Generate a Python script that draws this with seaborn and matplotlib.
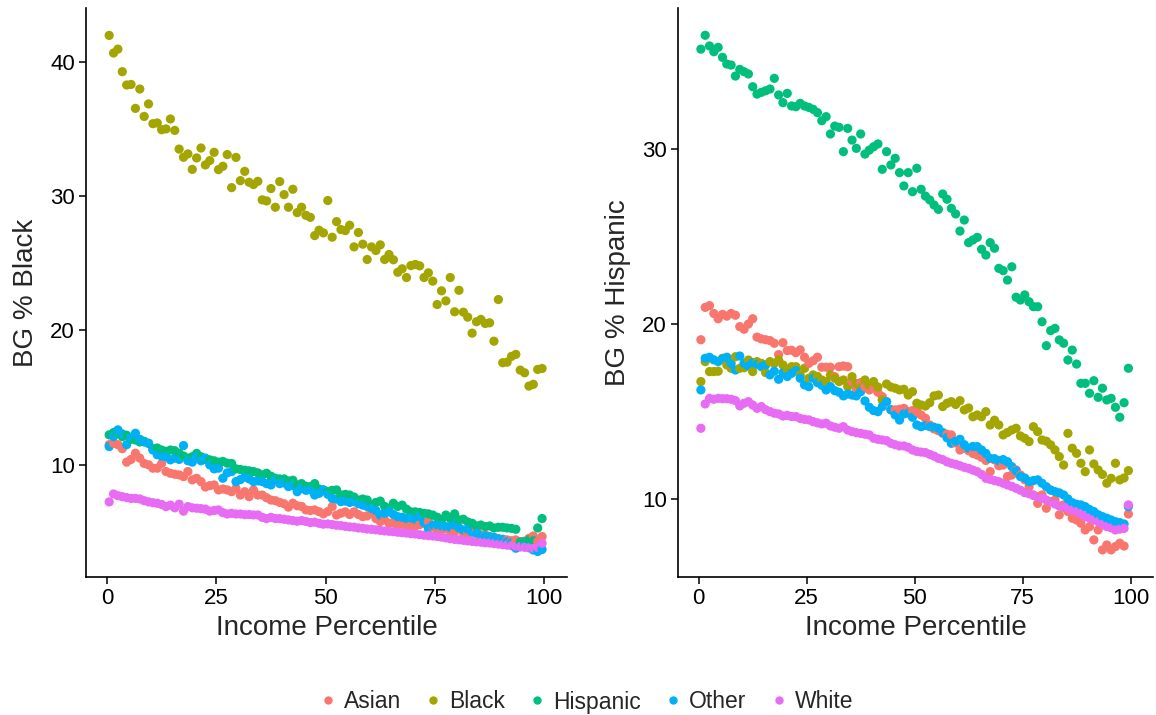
import numpy as np
import pandas as pd
import matplotlib
matplotlib.use("Agg")
import matplotlib.pyplot as plt
from matplotlib.lines import Line2D
import seaborn as sns

# Block-group demographic share by income percentile (percentile bin midpoints)
percentile = np.arange(0.5, 100, 1.0)
races = ["Asian", "Black", "Hispanic", "Other", "White"]
palette = ["#F8766D", "#A3A500", "#00BF7D", "#00B0F6", "#E76BF3"]

# ---- BG % Black ----
black_asian = [
    11.5, 11.6, 11.5, 11.2, 10.2, 10.4, 10.86, 10.5, 10.1, 10.0,
    9.75, 9.75, 10.1, 9.5, 9.37, 9.3, 9.25, 9.12, 9.5, 8.88,
    9.0, 8.75, 8.35, 8.45, 8.5, 8.13, 8.2, 8.13, 8.0, 8.25,
    7.75, 8.0, 7.63, 8.13, 7.75, 7.75, 7.55, 7.38, 7.33, 7.2,
    7.1, 6.85, 7.14, 6.95, 6.9, 6.64, 6.6, 6.64, 6.51, 6.35,
    6.52, 6.89, 6.26, 6.4, 6.5, 6.3, 6.5, 6.3, 6.14, 6.2,
    6.39, 6.0, 5.78, 5.9, 5.65, 5.7, 5.52, 5.6, 5.52, 5.5,
    5.45, 5.55, 5.65, 5.78, 5.4, 5.2, 5.15, 5.27, 5.1, 5.0,
    5.27, 4.95, 4.91, 5.0, 5.1, 4.46, 4.8, 4.66, 4.6, 4.5,
    4.45, 4.41, 4.35, 4.41, 4.28, 4.3, 4.53, 4.7, 4.28, 4.66,
]
black_black = [
    41.96, 40.65, 40.94, 39.26, 38.27, 38.31, 36.53, 37.97, 35.93, 36.86,
    35.39, 35.44, 34.94, 35.0, 35.74, 34.89, 33.5, 32.89, 33.14, 31.99,
    32.84, 33.58, 32.32, 32.64, 33.26, 31.97, 32.22, 33.09, 30.63, 32.88,
    31.15, 31.84, 31.03, 30.86, 31.1, 29.72, 29.64, 30.56, 29.17, 31.08,
    30.11, 29.17, 30.51, 28.77, 29.17, 28.57, 28.42, 27.06, 27.46, 27.26,
    29.67, 26.94, 28.1, 27.51, 27.43, 27.83, 26.22, 27.29, 26.42, 25.28,
    26.22, 25.95, 26.37, 25.28, 25.65, 25.26, 24.33, 24.59, 23.94, 24.83,
    24.91, 24.81, 23.94, 24.29, 23.67, 21.93, 22.95, 22.2, 23.94, 21.39,
    22.99, 21.36, 20.99, 19.8, 20.65, 20.82, 20.52, 20.57, 19.2, 22.3,
    17.6, 17.64, 18.07, 18.22, 17.05, 16.85, 15.86, 15.99, 17.1, 17.17,
]
black_hispanic = [
    12.23, 12.4, 12.35, 12.1, 12.2, 11.9, 11.85, 11.7, 11.75, 11.6,
    11.2, 11.25, 11.1, 11.0, 11.1, 11.05, 10.86, 10.65, 10.5, 10.6,
    10.85, 10.6, 10.4, 10.37, 10.3, 10.2, 10.25, 10.12, 10.1, 9.7,
    9.65, 9.6, 9.55, 9.5, 9.4, 9.25, 9.37, 9.15, 9.0, 8.95,
    8.95, 8.8, 8.85, 8.5, 8.6, 8.4, 8.38, 8.6, 8.2, 8.13,
    8.0, 8.1, 8.13, 7.75, 7.8, 7.75, 7.6, 7.38, 7.45, 7.38,
    7.0, 7.2, 7.3, 6.9, 6.76, 7.14, 6.9, 7.0, 6.7, 6.5,
    6.5, 6.45, 6.39, 6.35, 6.26, 6.1, 5.9, 6.26, 6.0, 6.35,
    5.9, 5.95, 5.75, 5.65, 5.45, 5.52, 5.4, 5.45, 5.3, 5.35,
    5.35, 5.3, 5.27, 5.2, 4.25, 4.3, 4.41, 4.35, 5.3, 6.0,
]
black_other = [
    11.36, 12.1, 12.6, 12.3, 11.5, 12.0, 12.35, 11.9, 11.7, 11.6,
    11.1, 10.75, 10.65, 10.6, 10.37, 10.5, 10.4, 11.43, 10.3, 10.2,
    10.6, 10.3, 10.5, 10.0, 9.7, 9.75, 9.0, 9.4, 9.5, 8.75,
    8.9, 9.1, 8.95, 8.75, 8.8, 8.75, 8.6, 8.5, 8.88, 8.6,
    8.65, 8.38, 8.45, 8.0, 8.25, 8.1, 8.13, 7.75, 7.88, 8.13,
    7.8, 7.5, 7.45, 7.26, 7.3, 7.2, 7.26, 7.1, 7.0, 6.9,
    6.76, 6.6, 6.26, 6.4, 6.5, 6.3, 6.14, 6.1, 6.0, 6.05,
    5.95, 6.14, 5.7, 5.27, 5.5, 5.52, 5.45, 5.4, 5.35, 5.52,
    5.3, 5.15, 5.2, 5.0, 4.9, 4.78, 4.7, 4.65, 4.6, 4.5,
    4.45, 4.28, 4.2, 3.79, 3.9, 3.95, 3.85, 3.66, 3.55, 3.7,
]
black_white = [
    7.24, 7.83, 7.7, 7.63, 7.56, 7.5, 7.5, 7.46, 7.33, 7.24,
    7.18, 7.14, 7.05, 6.89, 7.0, 6.8, 7.07, 6.55, 6.89, 6.8,
    6.77, 6.74, 6.7, 6.55, 6.6, 6.64, 6.44, 6.34, 6.39, 6.34,
    6.34, 6.29, 6.3, 6.27, 6.27, 6.09, 6.0, 6.09, 6.0, 6.0,
    5.95, 5.9, 5.85, 5.8, 5.85, 5.78, 5.7, 5.73, 5.65, 5.58,
    5.6, 5.55, 5.5, 5.48, 5.42, 5.38, 5.36, 5.3, 5.28, 5.22,
    5.2, 5.16, 5.12, 5.08, 5.05, 5.02, 4.98, 4.95, 4.92, 4.88,
    4.85, 4.8, 4.76, 4.73, 4.7, 4.67, 4.62, 4.56, 4.5, 4.45,
    4.42, 4.38, 4.34, 4.3, 4.27, 4.24, 4.2, 4.18, 4.14, 4.1,
    4.06, 4.02, 3.98, 3.94, 3.9, 3.86, 3.82, 3.78, 3.85, 4.16,
]

# ---- BG % Hispanic ----
hisp_asian = [
    19.1, 20.95, 21.05, 20.6, 20.3, 20.55, 20.45, 20.6, 20.5, 19.85,
    19.7, 20.0, 20.3, 19.25, 19.15, 19.1, 19.05, 18.9, 18.25, 18.93,
    18.48, 18.5, 18.36, 18.52, 18.1, 17.75, 17.9, 18.1, 17.53, 17.53,
    17.53, 16.99, 17.56, 17.6, 17.56, 16.71, 16.33, 16.65, 16.4, 16.23,
    16.33, 16.1, 15.85, 15.56, 15.09, 15.09, 15.13, 15.18, 14.99, 15.05,
    14.99, 14.8, 14.61, 14.23, 14.0, 13.9, 13.75, 13.7, 13.66, 13.2,
    12.8, 12.9, 12.76, 12.6, 12.51, 12.38, 12.2, 11.56, 12.23, 11.9,
    11.94, 11.28, 11.37, 11.66, 11.37, 11.1, 10.7, 10.23, 9.75, 10.23,
    9.47, 10.51, 9.94, 9.09, 9.66, 9.28, 8.9, 8.8, 8.61, 8.23,
    8.42, 7.66, 8.23, 7.09, 7.37, 7.09, 7.28, 7.47, 7.31, 9.14,
]
hisp_black = [
    16.71, 17.85, 17.28, 17.28, 17.3, 18.04, 17.66, 17.47, 18.13, 17.47,
    17.5, 17.94, 17.28, 17.85, 17.75, 17.22, 17.85, 17.75, 17.94, 17.66,
    17.4, 17.56, 17.56, 17.09, 17.47, 16.9, 17.09, 17.0, 16.8, 16.71,
    17.09, 16.9, 16.71, 16.8, 16.42, 16.99, 16.6, 16.33, 16.8, 16.5,
    16.71, 16.4, 15.66, 16.57, 16.4, 16.33, 16.23, 16.27, 15.94, 16.13,
    15.47, 15.37, 15.31, 15.5, 15.89, 15.94, 15.28, 15.47, 15.56, 15.4,
    15.62, 15.09, 15.2, 14.7, 14.8, 14.7, 14.99, 14.23, 14.5, 14.23,
    13.66, 13.8, 13.94, 14.04, 13.6, 13.47, 13.28, 14.13, 13.85, 13.37,
    13.3, 13.09, 12.8, 12.42, 11.94, 13.75, 12.9, 12.61, 12.04, 11.56,
    12.8, 12.0, 11.66, 11.4, 10.9, 11.18, 12.04, 11.09, 11.2, 11.62,
]
hisp_hispanic = [
    35.71, 36.5, 35.89, 35.56, 35.81, 35.24, 34.86, 34.8, 34.17, 34.55,
    34.42, 34.29, 33.56, 33.14, 33.24, 33.33, 33.43, 34.04, 33.09, 32.65,
    33.18, 32.46, 32.42, 32.61, 32.46, 32.38, 32.27, 32.08, 31.62, 31.85,
    30.86, 31.31, 31.24, 29.85, 31.18, 30.51, 30.04, 30.86, 29.71, 29.94,
    30.13, 30.29, 28.84, 29.85, 29.09, 29.47, 28.65, 27.89, 28.65, 27.56,
    28.9, 27.7, 27.31, 27.09, 26.8, 26.55, 27.43, 27.13, 26.61, 26.29,
    25.31, 25.94, 24.65, 24.8, 24.95, 24.27, 23.94, 24.65, 24.33, 23.18,
    23.05, 22.51, 23.27, 21.53, 21.37, 21.66, 21.27, 20.99, 20.99, 20.13,
    18.76, 19.62, 19.75, 19.09, 18.9, 17.94, 18.51, 17.71, 16.61, 16.61,
    16.04, 16.76, 15.81, 16.33, 15.66, 15.75, 15.24, 14.67, 15.5, 17.47,
]
hisp_other = [
    16.23, 18.04, 18.1, 17.95, 17.85, 18.0, 18.1, 17.75, 17.37, 18.17,
    17.75, 17.6, 17.79, 17.7, 17.56, 17.66, 17.09, 17.3, 16.84, 17.22,
    17.0, 17.18, 17.33, 16.9, 16.52, 16.42, 16.9, 16.65, 16.5, 16.23,
    16.42, 16.19, 16.1, 15.89, 16.0, 15.94, 15.89, 16.13, 15.6, 15.24,
    15.05, 14.99, 15.28, 15.56, 15.1, 14.8, 14.51, 14.86, 14.9, 14.67,
    14.23, 14.13, 14.2, 14.13, 14.1, 14.04, 13.8, 13.5, 13.18, 13.3,
    13.41, 13.1, 12.9, 13.0, 12.99, 12.8, 12.6, 12.32, 12.3, 12.19,
    12.25, 12.13, 11.85, 11.6, 11.28, 11.2, 10.99, 11.05, 11.09, 10.9,
    10.7, 10.51, 10.42, 10.35, 10.23, 10.0, 9.79, 9.7, 9.66, 9.56,
    9.4, 9.28, 9.1, 8.99, 8.9, 8.8, 8.7, 8.65, 8.57, 9.56,
]
hisp_white = [
    14.04, 15.43, 15.75, 15.7, 15.75, 15.73, 15.73, 15.7, 15.62, 15.32,
    15.47, 15.56, 15.37, 15.18, 15.28, 15.1, 14.99, 14.9, 14.86, 14.74,
    14.78, 14.71, 14.71, 14.6, 14.55, 14.52, 14.42, 14.35, 14.29, 14.33,
    14.17, 14.1, 14.04, 14.13, 13.94, 13.85, 13.79, 13.75, 13.7, 13.66,
    13.47, 13.41, 13.37, 13.33, 13.18, 13.1, 13.03, 13.03, 12.95, 12.8,
    12.72, 12.68, 12.65, 12.55, 12.45, 12.32, 12.25, 12.12, 12.04, 11.98,
    11.9, 11.81, 11.75, 11.65, 11.56, 11.4, 11.18, 11.12, 11.05, 10.99,
    10.9, 10.8, 10.72, 10.61, 10.5, 10.36, 10.3, 10.2, 10.13, 10.05,
    9.94, 9.85, 9.71, 9.6, 9.52, 9.47, 9.38, 9.28, 9.15, 8.99,
    8.9, 8.8, 8.7, 8.55, 8.42, 8.35, 8.23, 8.28, 8.32, 9.66,
]


def long_frame(series):
    """Stack one panel's series into a tidy frame, interleaved by percentile."""
    parts = [pd.DataFrame({"pct": percentile, "value": vals, "race": race})
             for race, vals in zip(races, series)]
    return pd.concat(parts).sort_values("pct", kind="stable").reset_index(drop=True)


df_black = long_frame([black_asian, black_black, black_hispanic, black_other, black_white])
df_hisp = long_frame([hisp_asian, hisp_black, hisp_hispanic, hisp_other, hisp_white])

sns.set_style("ticks")
plt.rcParams["font.family"] = ["Liberation Sans", "DejaVu Sans"]

W, H = 1156, 715
fig = plt.figure(figsize=(W / 100, H / 100), dpi=100)
ax1 = fig.add_axes([86 / W, 1 - 577 / H, 481 / W, 569 / H])
ax2 = fig.add_axes([678 / W, 1 - 577 / H, 475 / W, 569 / H])

panels = [
    (ax1, df_black, "BG % Black", (1.65, 44.0), [10, 20, 30, 40]),
    (ax2, df_hisp, "BG % Hispanic", (5.54, 38.06), [10, 20, 30]),
]
for ax, df, ylabel, ylim, yticks in panels:
    sns.scatterplot(data=df, x="pct", y="value", hue="race", hue_order=races,
                    palette=palette, s=44, linewidth=0, alpha=1,
                    legend=False, ax=ax)
    ax.set_xlim(-4.8, 105.2)
    ax.set_ylim(*ylim)
    ax.set_xticks([0, 25, 50, 75, 100])
    ax.set_yticks(yticks)
    ax.set_xlabel("Income Percentile", fontsize=20, labelpad=4)
    ax.set_ylabel(ylabel, fontsize=20, labelpad=8)
    for side in ("top", "right"):
        ax.spines[side].set_visible(False)
    for side in ("left", "bottom"):
        ax.spines[side].set_linewidth(1.2)
        ax.spines[side].set_color("black")
    ax.tick_params(axis="both", length=5, width=1.1, color="black",
                   labelsize=16, labelcolor="black", pad=3)

handles = [Line2D([0], [0], marker="o", linestyle="", markersize=6,
                  markerfacecolor=c, markeredgewidth=0) for c in palette]
fig.legend(handles, races, loc="center", bbox_to_anchor=(0.505, 1 - 702 / H),
           ncol=5, frameon=False, fontsize=16.5, handletextpad=0.1,
           columnspacing=0.8, handlelength=1.2)

fig.savefig("out.png", dpi=100)
